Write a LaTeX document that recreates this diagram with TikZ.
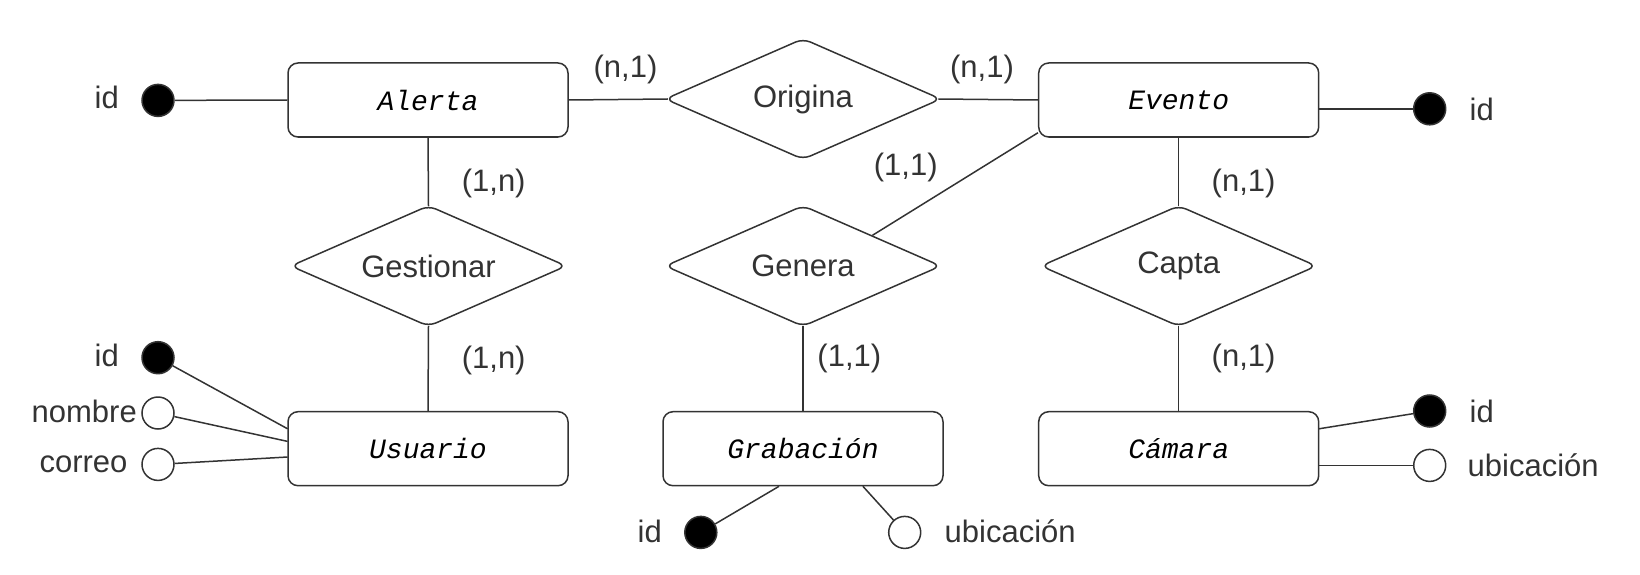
\documentclass[tikz,border=0pt]{standalone}
\usepackage{fontspec}
\setmainfont{Liberation Sans}
\newfontfamily\entfont{Liberation Mono}
\usetikzlibrary{shapes.geometric,calc}
\definecolor{ink}{HTML}{333333}
\tikzset{
  lbl/.style={text=ink,font=\fontsize{31}{36}\selectfont,inner sep=0pt},
  entity/.style={draw=ink,line width=1.5pt,rounded corners=10pt,minimum width=280pt,minimum height=74pt,font=\entfont\itshape\fontsize{28}{33}\selectfont,text=black},
  rel/.style={draw=ink,line width=1.5pt,shape=diamond,aspect=2.29,rounded corners=8pt,minimum width=276pt,minimum height=121pt,inner sep=0pt,text=ink,font=\fontsize{31}{36}\selectfont},
  keyattr/.style={circle,draw=ink,fill=black,line width=1.5pt,minimum size=32pt,inner sep=0pt},
  attr/.style={circle,draw=ink,fill=white,line width=1.5pt,minimum size=32pt,inner sep=0pt},
  conn/.style={draw=ink,line width=1.5pt}
}
\begin{document}
\begin{tikzpicture}[x=1pt,y=-1pt]
\useasboundingbox (0,0) rectangle (1640,575);
% entities
\node[entity] (al) at (428,100) {Alerta};
\node[entity] (ev) at (1178.7,100) {Evento};
\node[entity] (us) at (428,448.7) {Usuario};
\node[entity] (gr) at (803,448.7) {Grabación};
\node[entity] (ca) at (1178.7,448.7) {Cámara};
% relationships
\node[rel] (or) at (803,99) {Origina};
\node[rel] (ge) at (428.5,266) {Gestionar};
\node[rel] (gn) at (803,266) {Genera};
\node[rel] (cp) at (1178.7,266) {Capta};
% visible tips of the rounded diamonds
\coordinate (orw) at ($(or.west)+(3.5,0)$);
\coordinate (ore) at ($(or.east)+(-3.5,0)$);
\coordinate (gen) at ($(ge.north)+(0,1.5)$);
\coordinate (ges) at ($(ge.south)+(0,-1.5)$);
\coordinate (gns) at ($(gn.south)+(0,-1.5)$);
\coordinate (cpn) at ($(cp.north)+(0,1.5)$);
\coordinate (cps) at ($(cp.south)+(0,-1.5)$);
% relationship connectors
\draw[conn] (al.east) -- (orw);
\draw[conn] (ore) -- (ev.west);
\draw[conn] (al.south) -- (gen);
\draw[conn] (ges) -- (us.north);
\coordinate (evsw) at ($(ev.south west)+(0,-5)$);
\draw[conn] (evsw) -- (gn.north east);
\draw[conn] (gns) -- (gr.north);
\draw[conn] (ev.south) -- (cpn);
\draw[conn] (cps) -- (ca.north);
% cardinalities
\node[lbl] (c1) at (625.5,69) {(n,1)};
\node[lbl] (c2) at (982,69) {(n,1)};
\node[lbl] (c3) at (493.7,183) {(1,n)};
\node[lbl] (c4) at (493.7,360.8) {(1,n)};
\node[lbl] (c5) at (905.7,167.3) {(1,1)};
\node[lbl] (c6) at (849.3,358.7) {(1,1)};
\node[lbl] (c7) at (1243.6,183) {(n,1)};
\node[lbl] (c8) at (1243.6,358.7) {(n,1)};
% Alerta attributes
\node[keyattr] (alid) at (158,100.4) {};
\node[lbl,anchor=east] (alidl) at (119,97) {id};
\draw[conn] (alid) -- (al.west);
% Evento attributes
\node[keyattr] (evid) at (1429.7,108.8) {};
\node[lbl,anchor=west] (evidl) at (1469.5,109) {id};
\coordinate (evr) at ($(ev.east)+(0,8.8)$);
\draw[conn] (evr) -- (evid);
% Usuario attributes
\node[keyattr] (usid) at (158,357.7) {};
\node[lbl,anchor=east] (usidl) at (119,355.6) {id};
\node[attr] (usno) at (158,413) {};
\node[lbl,anchor=east] (usnol) at (137,411) {nombre};
\node[attr] (usco) at (158,464.4) {};
\node[lbl,anchor=east] (uscol) at (127.6,464.4) {correo};
\coordinate (us1) at (287.6,428.8);
\coordinate (us2) at (287.6,441.4);
\coordinate (us3) at (287.6,457);
\draw[conn] (usid) -- (us1);
\draw[conn] (usno) -- (us2);
\draw[conn] (usco) -- (us3);
% Grabacion attributes
\node[keyattr] (grid) at (700.8,532.4) {};
\node[lbl,anchor=east] (gridl) at (662,531.3) {id};
\node[attr] (grub) at (904.7,532.4) {};
\node[lbl,anchor=west] (grubl) at (944.5,531) {ubicación};
\coordinate (gr1) at (779,486.3);
\coordinate (gr2) at (862.9,486.3);
\draw[conn] (gr1) -- (grid);
\draw[conn] (gr2) -- (grub);
% Camara attributes
\node[keyattr] (caid) at (1429.7,411) {};
\node[lbl,anchor=west] (caidl) at (1469.5,411) {id};
\node[attr] (caub) at (1429.7,465.4) {};
\node[lbl,anchor=west] (caubl) at (1467.5,465.4) {ubicación};
\coordinate (ca1) at (1318.9,428.8);
\coordinate (ca2) at (1318.9,465.4);
\draw[conn] (ca1) -- (caid);
\draw[conn] (ca2) -- (caub);
\end{tikzpicture}
\end{document}
